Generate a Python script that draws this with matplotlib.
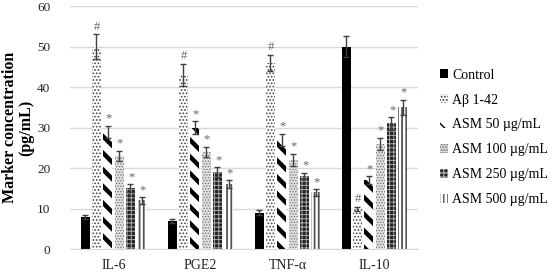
import matplotlib
matplotlib.use("Agg")
import matplotlib.pyplot as plt
import numpy as np

categories = ["IL-6", "PGE2", "TNF-α", "IL-10"]
groups = ["Control", "Aβ 1-42", "ASM 50 µg/mL", "ASM 100 µg/mL", "ASM 250 µg/mL", "ASM 500 µg/mL"]
values = {
    "Control":        [8, 7, 9, 50],
    "Aβ 1-42":        [50, 43, 46, 10],
    "ASM 50 µg/mL":   [29, 30, 27, 17],
    "ASM 100 µg/mL":  [23, 24, 22, 26],
    "ASM 250 µg/mL":  [15, 19, 18, 31],
    "ASM 500 µg/mL":  [12, 16, 14, 35],
}
errors = {
    "Control":        [0.5, 0.5, 0.6, 2.5],
    "Aβ 1-42":        [3.0, 2.8, 2.0, 0.5],
    "ASM 50 µg/mL":   [1.5, 1.5, 1.5, 1.0],
    "ASM 100 µg/mL":  [1.2, 1.2, 1.5, 1.5],
    "ASM 250 µg/mL":  [1.0, 1.2, 0.8, 1.5],
    "ASM 500 µg/mL":  [0.8, 1.0, 0.8, 1.8],
}
marks = {
    "Control":        ["", "", "", ""],
    "Aβ 1-42":        ["#", "#", "#", "#"],
    "ASM 50 µg/mL":   ["*", "*", "*", "*"],
    "ASM 100 µg/mL":  ["*", "*", "*", "*"],
    "ASM 250 µg/mL":  ["*", "*", "*", "*"],
    "ASM 500 µg/mL":  ["*", "*", "*", "*"],
}

styles = {
    "Control":        dict(face="black", hatch=None, hc="black", hlw=1.0),
    "Aβ 1-42":        dict(face="white", hatch=".....", hc="#444444", hlw=0.8),
    "ASM 50 µg/mL":   dict(face="white", hatch="\\\\", hc="black", hlw=3.2),
    "ASM 100 µg/mL":  dict(face="#e0e0e0", hatch="......", hc="#707070", hlw=0.6),
    "ASM 250 µg/mL":  dict(face="#222222", hatch="++++", hc="#aaaaaa", hlw=0.7),
    "ASM 500 µg/mL":  dict(face="white", hatch="||||", hc="#555555", hlw=1.3),
}

plt.rcParams['font.family'] = ['Liberation Serif', 'DejaVu Serif']

fig = plt.figure(figsize=(5.55, 2.74), dpi=100)
ax = fig.add_axes([0.126, 0.091, 0.627, 0.887])

x = np.arange(len(categories))
slot = 0.13
width = 0.105
n = len(groups)
handles = []
for i, g in enumerate(groups):
    st = styles[g]
    pos = x + (i - (n - 1) / 2) * slot
    with plt.rc_context({'hatch.linewidth': st['hlw'], 'hatch.color': st['hc']}):
        bars = ax.bar(pos, values[g], width, color=st['face'], edgecolor=st['hc'],
                      linewidth=0, hatch=st['hatch'], label=g, zorder=2)
        for b in bars:
            if hasattr(b, "set_hatch_linewidth"):
                b.set_hatch_linewidth(st['hlw'])
    handles.append(bars)
    ax.errorbar(pos, values[g], yerr=errors[g], fmt='none', ecolor='#404040',
                elinewidth=1.0, capsize=2.5, capthick=1.0, zorder=3)
    for j, m in enumerate(marks[g]):
        if m:
            top = values[g][j] + errors[g][j]
            ax.text(pos[j] + 0.01, top + 0.3, m, ha='center', va='bottom',
                    fontsize=9, color='#666666', zorder=4)

ax.set_ylim(0, 60)
ax.set_xlim(-0.5, 3.5)
ax.set_yticks(range(0, 61, 10))
ax.yaxis.grid(True, color='#d9d9d9', linewidth=1.0, zorder=0)
ax.set_axisbelow(True)
ax.set_xticks(x)
ax.set_xticklabels(categories, fontsize=10)
ax.tick_params(axis='both', length=0, labelsize=10, colors='#222222')
ax.tick_params(axis='y', labelsize=9.5, pad=14)
ax.tick_params(axis='x', pad=7)
for s in ['top', 'right', 'left']:
    ax.spines[s].set_visible(False)
ax.spines['bottom'].set_color('#d9d9d9')
ax.set_ylabel("Marker concentration\n(pg/mL)", fontsize=11.5, fontweight='bold',
              linespacing=1.0, labelpad=2)

leg = fig.legend(handles=handles, labels=groups, loc='upper left',
                 bbox_to_anchor=(0.782, 0.77), frameon=False, fontsize=10,
                 handlelength=0.6, handleheight=0.6, handletextpad=0.3,
                 labelspacing=0.86, borderaxespad=0)

fig.savefig("out.png", dpi=100)
